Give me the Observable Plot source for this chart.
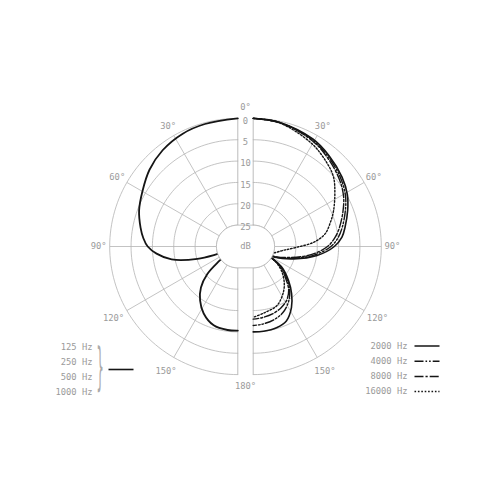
<!DOCTYPE html>
<html><head><meta charset="utf-8">
<script src="https://cdn.jsdelivr.net/npm/d3@7"></script>
<script src="https://cdn.jsdelivr.net/npm/@observablehq/plot@0.6"></script>
<style>body{margin:0;background:#fff}#chart{width:500px;height:500px}</style>
</head><body><div id="chart"></div>
<script>
// ---- data ----
const angleTicks = [30, 60, 90, 120, 150];
const ringDb = [0, 5, 10, 15, 20, 25];

// left half: 125 / 250 / 500 / 1000 Hz (one solid curve)
const leftAngles = [0, 15, 26, 38, 49, 60, 70, 79, 85, 90, 95, 101, 107, 111, 119, 128, 132, 138, 145, 153, 163, 173, 180];
const leftDb     = [0, 0.3, 0.6, 1.4, 2.6, 4.2, 5.4, 6.8, 7.8, 8.9, 10.9, 14.2, 20.1, 25.3, 28, 24.4, 20.4, 17.1, 14.6, 12.4, 10.7, 10.3, 10.3];

// right half
const rightAngles = [0, 12, 29, 40, 52, 61, 69, 78, 84, 90, 98, 107, 116, 119, 122, 126, 134, 141, 148, 156, 164, 173, 180];
const db2000 = [0, 0.3, 1.2, 2.3, 3.6, 4.8, 6.3, 8.0, 9.1, 11.0, 14.9, 20.1, 24.3, 28, 25, 21.7, 18.5, 15.7, 13.1, 10.9, 10.2, 10.0, 10.0];
const db4000 = [0, 0.3, 1.4, 2.6, 4.0, 5.3, 6.9, 8.7, 10.0, 11.8, 15.6, 20.6, 24.5, 28, 25, 22.0, 19.0, 16.4, 14.5, 13.0, 12.2, 11.7, 11.5];
const db8000 = [0, 0.3, 1.6, 2.9, 4.4, 5.8, 7.5, 9.4, 10.8, 12.6, 16.3, 21.2, 24.8, 28, 25, 22.3, 19.5, 16.8, 15.2, 14.2, 13.6, 13.2, 13.0];
const angles16000 = [0, 12, 29, 40, 49, 57, 66, 72, 80, 86, 91, 97, 110, 119, 122, 127, 135, 145, 158, 170, 180];
const db16000 = [0, 0.4, 2.2, 3.7, 5.1, 7.2, 9.4, 10.9, 12.9, 15.8, 19.8, 22.8, 25.5, 28, 25, 22.5, 20.0, 17.5, 15.1, 14.3, 13.4];

const leftLegend = ["125 Hz", "250 Hz", "500 Hz", "1000 Hz"];
const rightLegend = ["2000 Hz", "4000 Hz", "8000 Hz", "16000 Hz"];

// ---- layout ----
const K = 4.27;            // px per dB
const CX = 245, CY = 246;  // centre of the split chart
const G = 7.7 / K;         // half width of the centre gap, in dB units
const RMAX = 30;           // radius (dB units) of the 0 dB ring
const toX = px => (px - CX) / K;
const toY = py => (CY - py) / K;
const rad = t => t * Math.PI / 180;
function pt(side, theta, db) {
  const r = RMAX - db;
  return {x: side * (G + r * Math.sin(rad(theta))), y: r * Math.cos(rad(theta))};
}
const GRID = "#b4b4b4", TXT = "#9a9a9a", INK = "#151515";
const FONT = "DejaVu Sans Mono";

// rings
const rings = [];
ringDb.forEach(db => [-1, 1].forEach(side => {
  for (let t = 0; t <= 180; t += 2) rings.push({...pt(side, t, db), key: db + "_" + side});
}));
// spokes
const spokes = [];
angleTicks.forEach(a => [-1, 1].forEach(side => {
  const p = pt(side, a, 25), q = pt(side, a, 0);
  spokes.push({x1: p.x, y1: p.y, x2: q.x, y2: q.y});
}));
// gap lines
const gapLines = [];
[-1, 1].forEach(side => {
  gapLines.push({x1: side * G, y1: RMAX - 25, x2: side * G, y2: RMAX});
  gapLines.push({x1: side * G, y1: -(RMAX - 25), x2: side * G, y2: -RMAX});
});
// inner disc (two half circles joined by the gap)
const disc = [];
for (let t = 0; t <= 180; t += 5) disc.push(pt(1, t, 25));
for (let t = 180; t >= 0; t -= 5) disc.push(pt(-1, t, 25));
disc.push(disc[0]);

const leftCurve = leftAngles.map((a, i) => pt(-1, a, leftDb[i]));
const curve2000 = rightAngles.map((a, i) => pt(1, a, db2000[i]));
const curve4000 = rightAngles.map((a, i) => pt(1, a, db4000[i]));
const curve8000 = rightAngles.map((a, i) => pt(1, a, db8000[i]));
const curve16000 = angles16000.map((a, i) => pt(1, a, db16000[i]));

const dashes = ["none", "9,2,1.6,2,1.6,2", "9,2,2.2,2", "1.6,1.8"];
const rightCurves = [curve2000, curve4000, curve8000, curve16000];

// angle labels
const LR = 32.6;
const angleLabels = [{x: 0, y: LR, text: "0°"}, {x: 0, y: -LR, text: "180°"}];
angleTicks.forEach(a => [-1, 1].forEach(side => {
  const r = a >= 120 ? LR + 1 : LR;
  angleLabels.push({x: side * (G + r * Math.sin(rad(a))), y: r * Math.cos(rad(a)), text: a + "°"});
}));
const dbLabels = ringDb.map(db => ({x: 0, y: RMAX - db, text: String(db)}));

const legendMarks = [];
// left legend
legendMarks.push(Plot.text(leftLegend, {x: toX(92), y: (d, i) => toY(347 + i * 14.8), text: d => d,
  textAnchor: "end", fill: TXT, fontSize: 8.8, fontFamily: FONT}));
legendMarks.push(Plot.link([{x1: toX(108), x2: toX(133), y: toY(369)}],
  {x1: "x1", x2: "x2", y1: "y", y2: "y", stroke: INK, strokeWidth: 1.6}));
// right legend
legendMarks.push(Plot.text(rightLegend, {x: toX(407), y: (d, i) => toY(345.5 + i * 15.2), text: d => d,
  textAnchor: "end", fill: TXT, fontSize: 8.8, fontFamily: FONT}));
rightLegend.forEach((d, i) => {
  legendMarks.push(Plot.link([{x1: toX(414), x2: toX(439), y: toY(345.5 + i * 15.2)}],
    {x1: "x1", x2: "x2", y1: "y", y2: "y", stroke: INK, strokeWidth: 1.5, strokeDasharray: dashes[i]}));
});

const chart = Plot.plot({
  width: 500, height: 500, margin: 0,
  x: {domain: [toX(0), toX(500)], range: [0, 500], axis: null},
  y: {domain: [toY(500), toY(0)], range: [500, 0], axis: null},
  style: {background: "#fff"},
  marks: [
    Plot.line(rings, {x: "x", y: "y", z: "key", stroke: GRID, strokeWidth: 0.8}),
    Plot.link(spokes, {x1: "x1", y1: "y1", x2: "x2", y2: "y2", stroke: GRID, strokeWidth: 0.8}),
    Plot.link(gapLines, {x1: "x1", y1: "y1", x2: "x2", y2: "y2", stroke: GRID, strokeWidth: 0.9}),
    Plot.line(leftCurve, {x: "x", y: "y", curve: "catmull-rom", stroke: INK, strokeWidth: 1.8}),
    ...rightCurves.map((c, i) => Plot.line(c, {x: "x", y: "y", curve: "catmull-rom", stroke: INK,
      strokeWidth: i === 0 ? 1.6 : 1.4, strokeDasharray: dashes[i]})),
    Plot.line(disc, {x: "x", y: "y", fill: "#fff", stroke: GRID, strokeWidth: 0.8}),
    Plot.text(dbLabels, {x: "x", y: "y", text: "text", dy: 2.5, fill: TXT, fontSize: 8.8, fontFamily: FONT}),
    Plot.text([{x: 0, y: 0, text: "dB"}], {x: "x", y: "y", text: "text", fill: TXT, fontSize: 8.8, fontFamily: FONT}),
    Plot.text(angleLabels, {x: "x", y: "y", text: "text", fill: TXT, fontSize: 8.8, fontFamily: FONT}),
    ...legendMarks
  ]
});
document.getElementById("chart").appendChild(chart);
// curly brace beside the left legend
d3.select(chart).append("text")
  .attr("transform", "translate(100,368) scale(0.8,3.4)")
  .attr("text-anchor", "middle").attr("dy", "0.32em")
  .attr("font-family", "DejaVu Sans Mono").attr("font-size", 15).attr("fill", "#aaaaaa")
  .style("text-rendering", "geometricPrecision")
  .text("}");
</script></body></html>
